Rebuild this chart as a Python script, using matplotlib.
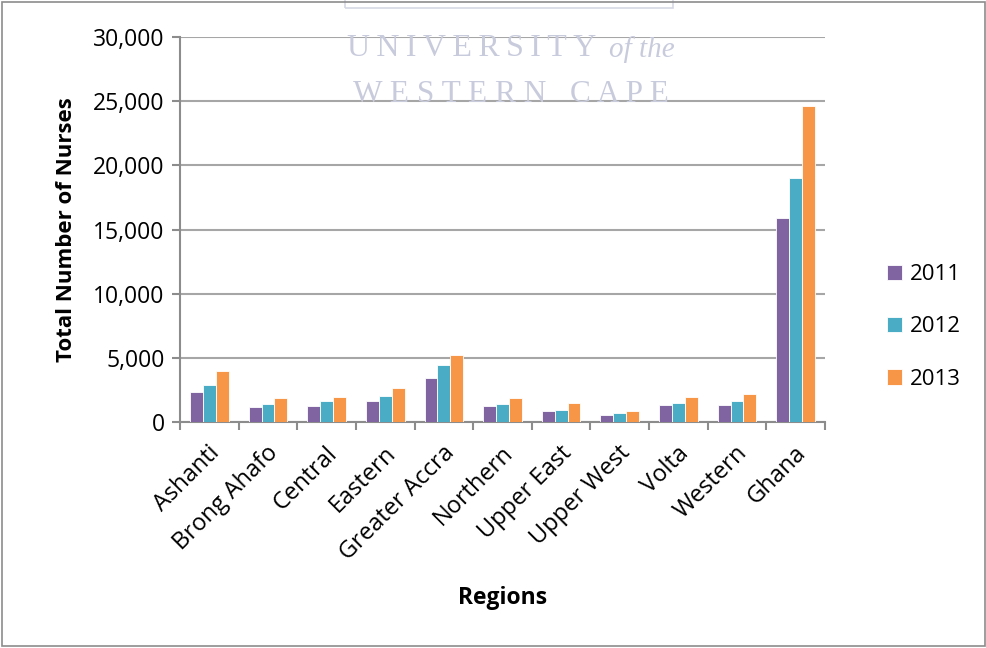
import matplotlib.pyplot as plt
import numpy as np
from matplotlib.patches import Rectangle
from matplotlib.transforms import ScaledTranslation

regions = ['Ashanti', 'Brong Ahafo', 'Central', 'Eastern', 'Greater Accra',
           'Northern', 'Upper East', 'Upper West', 'Volta', 'Western', 'Ghana']
nurses_2011 = [2350, 1200, 1250, 1640, 3410, 1250, 860, 550, 1300, 1300, 15860]
nurses_2012 = [2920, 1380, 1620, 2060, 4430, 1380, 970, 680, 1460, 1640, 19040]
nurses_2013 = [3960, 1900, 1930, 2630, 5230, 1850, 1460, 840, 1950, 2160, 24610]
years = ['2011', '2012', '2013']
colors = ['#8064A2', '#4BACC6', '#F79646']

plt.rcParams['font.family'] = ['Open Sans', 'DejaVu Sans']

fig = plt.figure(figsize=(9.87, 6.48), dpi=100)
ax = fig.add_axes([180/987, 1 - 422/648, 645/987, 385/648])

x = np.arange(len(regions))
w = 0.22
for i, (vals, lab, c) in enumerate(zip([nurses_2011, nurses_2012, nurses_2013], years, colors)):
    ax.bar(x + (i - 1) * w, vals, w, color=c, label=lab, edgecolor='white', linewidth=0.6, zorder=3)

ax.set_xlim(-0.5, len(regions) - 0.5)
ax.set_ylim(0, 30000)
ax.set_yticks(range(0, 30001, 5000))
ax.set_yticklabels([f'{v:,}' for v in range(0, 30001, 5000)], fontsize=16.5)
ax.yaxis.grid(True, color='#A6A6A6', linewidth=1.5, zorder=0)

ax.set_xticks(x)
ax.set_xticklabels(regions, rotation=45, ha='right', va='center', rotation_mode='anchor', fontsize=17)
ax.tick_params(axis='x', length=0, pad=20)
shift = ScaledTranslation(0.07, 0, fig.dpi_scale_trans)
for lbl in ax.get_xticklabels():
    lbl.set_transform(lbl.get_transform() + shift)
ax.set_xticks(np.arange(-0.5, len(regions)), minor=True)
ax.tick_params(axis='x', which='minor', length=6, color='#8C8C8C', width=1.5)
ax.tick_params(axis='y', length=6, color='#8C8C8C', width=1.5, pad=5)

for s in ['top', 'right']:
    ax.spines[s].set_visible(False)
for s in ['left', 'bottom']:
    ax.spines[s].set_color('#8C8C8C')
    ax.spines[s].set_linewidth(1.5)

ax.set_ylabel('Total Number of Nurses', fontsize=16, fontweight='bold', labelpad=12)
ax.set_xlabel('Regions', fontsize=16.5, fontweight='bold')
ax.xaxis.set_label_coords(0.5, -(586 - 422) / 385)

ax.legend(loc='center left', bbox_to_anchor=(1.065, 0.247), frameon=False, fontsize=16,
          handlelength=0.7, handleheight=0.7, handletextpad=0.35, labelspacing=1.4)

# faint watermark
wm = '#C8CBDC'
serif = ['Liberation Serif', 'DejaVu Serif']
fig.text(347/987, 1 - 48/648, '\u2009'.join('UNIVERSITY'), ha='left', va='center', fontsize=23,
         family=serif, color=wm, zorder=0)
fig.text(675/987, 1 - 50/648, 'of the', ha='right', va='center', fontsize=21,
         family=serif, style='italic', color=wm, zorder=0)
fig.text(511/987, 1 - 95/648, 'W E S T E R N   C A P E', ha='center', va='center', fontsize=22.5,
         family=serif, color=wm, zorder=0)
fig.patches.append(Rectangle((345/987, 1 - 8/648), 328/987, 12/648, transform=fig.transFigure,
                             fill=False, edgecolor='#D6D8E4', linewidth=1.2))

fig.patches.append(Rectangle((2/987, 2/648), 983/987, 644/648, transform=fig.transFigure,
                             fill=False, edgecolor='#8C8C8C', linewidth=1.2))

fig.savefig('out.png', dpi=100)
